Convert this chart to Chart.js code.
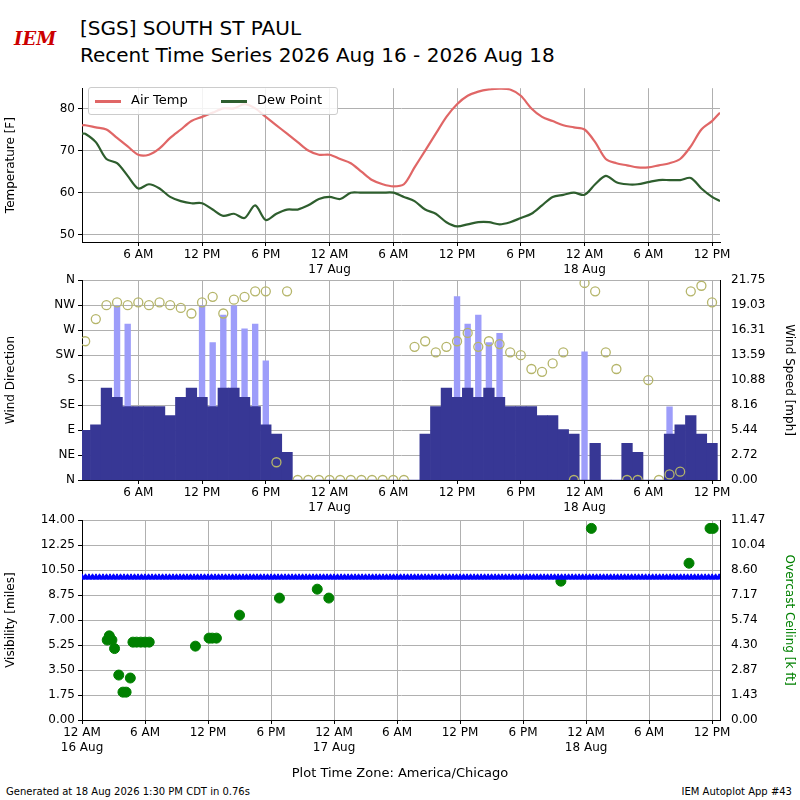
<!DOCTYPE html><html><head><meta charset="utf-8">
<script src="https://cdn.jsdelivr.net/npm/chart.js@4"></script>
<style>
body{margin:0;width:800px;height:800px;background:#fff;font-family:"DejaVu Sans";position:relative;overflow:hidden}
canvas{position:absolute;left:0}
.t{position:absolute;white-space:nowrap;color:#000}
</style></head><body>
<div class="t" style="left:14px;top:6px;width:50px;height:44px;color:#c00;font:italic bold 18px 'DejaVu Serif';padding-top:22px;box-sizing:border-box">IEM</div>
<div class="t" style="left:80px;top:16px;font-size:20px">[SGS] SOUTH ST PAUL</div>
<div class="t" style="left:80px;top:43px;font-size:20px">Recent Time Series 2026 Aug 16 - 2026 Aug 18</div>
<canvas id="c1" width="800" height="200" style="top:78px"></canvas>
<canvas id="c2" width="800" height="246" style="top:270px"></canvas>
<canvas id="c3" width="800" height="246" style="top:510px"></canvas>
<div class="t" style="left:88px;top:87px;width:248px;height:26px;border:1px solid #ccc;border-radius:3px;background:rgba(255,255,255,.85);font-size:13px">
<span style="position:absolute;left:6px;top:12px;width:26px;border-top:3px solid #e06666"></span><span style="position:absolute;left:42px;top:4px">Air Temp</span>
<span style="position:absolute;left:132px;top:12px;width:26px;border-top:3px solid #2e5e2e"></span><span style="position:absolute;left:168px;top:4px">Dew Point</span></div>
<div class="t" style="left:0;width:800px;text-align:center;top:765px;font-size:13px">Plot Time Zone: America/Chicago</div>
<div class="t" style="left:6px;top:786px;font-size:10px">Generated at 18 Aug 2026 1:30 PM CDT in 0.76s</div>
<div class="t" style="right:8px;top:786px;font-size:10px">IEM Autoplot App #43</div>
<script>
const hours=[0.7,1,2,3,4,5,6,7,8,9,10,11,12,13,14,15,16,17,18,19,20,21,22,23,24,25,26,27,28,29,30,31,32,33,34,35,36,37,38,39,40,41,42,43,44,45,46,47,48,49,50,51,52,53,54,55,56,57,58,59,60,60.75];
const airTemp=[76,76,75.5,75,73,71,69,69,70.5,73,75,77,78,79,80,80,81,80,78,76,74,72,70,69,69,68,67,65,63,62,61.5,62,66,70,74,78,81,83,84,84.5,84.7,84.5,83,80,78,77,76,75.5,75,72,68,67,66.5,66,66,66.5,67,68,71,75,77,79];
const dewPoint=[74,74,72,68,67,64,61,62,61,59,58,57.5,57.5,56,54.5,55,54,57,53.5,55,56,56,57,58.5,59,58.5,60,60,60,60,60,59,58,56,55,53,52,52.5,53,53,52.5,53,54,55,57,59,59.5,60,59.5,62,64,62.5,62,62,62.5,63,63,63,63.5,61,59,58];
const windHours=[1,2,3,4,5,6,7,8,9,10,11,12,13,14,15,16,17,18,19,20,21,22,23,24,25,26,27,28,29,30,31,32,33,34,35,36,37,38,39,40,41,42,43,44,45,46,47,48,49,50,51,52,53,54,55,56,57,58,59,60];
const windSpeed=[5.4,6,10,9,8,8,8,8,7,9,10,9,8,10,10,9,8,6,5,3,0,0,0,0,0,0,0,0,0,0,0,0,5,8,10,9,10,9,10,9,8,8,8,7,7,5.5,5,0,4,0,0,4,3,0,0,5,6,7,5,4];
const windGust=[0,0,0,19,17,0,0,0,0,0,0,19,15,18,19,16.5,17,13,0,0,0,0,0,0,0,0,0,0,0,0,0,0,0,0,0,20,17,18,15,16,0,0,0,0,0,0,0,14,0,0,0,0,0,0,0,8,0,0,0,0];
const windDir=[250,290,315,320,315,320,315,320,315,310,300,320,330,300,325,330,340,340,32,340,0,0,0,0,0,0,0,0,0,0,0,240,250,230,240,250,265,240,250,245,230,225,200,195,210,230,0,355,340,230,200,0,0,180,0,10,15,340,350,320];
const ceilHours=[2.4,2.6,2.85,3.1,3.5,3.9,4.2,4.6,4.85,5.2,5.6,6.0,6.4,10.8,12.1,12.4,12.8,15.0,18.8,22.4,23.5,45.6,48.5,57.8,59.8,60.1];
const ceilKft=[4.59,4.83,4.59,4.1,2.58,1.6,1.6,2.41,4.47,4.47,4.47,4.47,4.47,4.24,4.7,4.7,4.7,6.02,7.0,7.51,7.0,7.97,11.0,9.0,11.0,11.0];
const visValue=10;
const dirLabels=['N','NE','E','SE','S','SW','W','NW','N'];

Chart.defaults.font.family='DejaVu Sans';Chart.defaults.font.size=12;Chart.defaults.color='#000';
Chart.defaults.animation=false;Chart.defaults.responsive=false;
const grid={color:'#b0b0b0',drawTicks:true,tickLength:4,tickColor:'#000'};
function tl(v){const h=((v%24)+24)%24;const n={0:'12 AM',6:'6 AM',12:'12 PM',18:'6 PM'}[h];
 if(h===0){const d=16+Math.round(v/24);return [n,d+' Aug'];}return n;}
function xAxis(min,startTick){return {type:'linear',min:min,max:60.75,offset:false,grid:Object.assign({offset:false},grid),border:{color:'#000'},
 afterBuildTicks:s=>{const t=[];for(let v=startTick;v<=60.75;v+=6)t.push({value:v});s.ticks=t;},
 ticks:{callback:tl,maxRotation:0,autoSkip:false,padding:2},afterFit:s=>{s.height=36;}};}
function fixTicks(arr){return s=>{s.ticks=arr.map(v=>({value:v}));};}
const lw=s=>{s.width=82;},rw=s=>{s.width=80;};
const pl={legend:{display:false},tooltip:{enabled:false}};
const lay=r=>({autoPadding:false,padding:{right:r,top:0,left:0,bottom:0}});

new Chart(document.getElementById('c1'),{type:'line',data:{datasets:[
 {data:hours.map((h,i)=>({x:h,y:airTemp[i]})),borderColor:'#e06666',borderWidth:2.2,pointRadius:0,tension:0.3},
 {data:hours.map((h,i)=>({x:h,y:dewPoint[i]})),borderColor:'#2e5e2e',borderWidth:2.2,pointRadius:0,tension:0.3}]},
 options:{plugins:pl,layout:lay(80),scales:{x:xAxis(0.7,6),
 y:{min:48.3,max:84.8,afterBuildTicks:fixTicks([50,60,70,80]),grid:grid,border:{color:'#000'},afterFit:lw,title:{display:true,text:'Temperature [F]'}}}}});

const spd=[],gst=[],dr=[];
windHours.forEach((h,i)=>{spd.push({x:h,y:windSpeed[i]});gst.push({x:h,y:windGust[i]});dr.push({x:h,y:windDir[i]});});
const spdTicks=[];for(let i=0;i<=8;i++)spdTicks.push(i*21.75/8);
new Chart(document.getElementById('c2'),{data:{datasets:[
 {type:'scatter',data:dr,yAxisID:'y',pointStyle:'circle',pointRadius:4.5,borderColor:'#b5b56a',backgroundColor:'rgba(0,0,0,0)',borderWidth:1.3,order:0},
 {type:'bar',data:spd,yAxisID:'y2',backgroundColor:'#373795',barPercentage:1,categoryPercentage:1,grouped:false,order:1},
 {type:'bar',data:gst,yAxisID:'y2',backgroundColor:'#9d9dfa',barPercentage:0.6,categoryPercentage:1,grouped:false,order:2}]},
 options:{plugins:pl,layout:lay(0),scales:{x:xAxis(0.7,6),
 y:{position:'left',min:0,max:360,afterBuildTicks:fixTicks([0,45,90,135,180,225,270,315,360]),ticks:{callback:v=>dirLabels[Math.round(v/45)]},grid:grid,border:{color:'#000'},afterFit:lw,title:{display:true,text:'Wind Direction'}},
 y2:{position:'right',min:0,max:21.75,afterBuildTicks:fixTicks(spdTicks),ticks:{callback:v=>v.toFixed(2)},grid:{display:false},border:{color:'#000'},afterFit:rw,title:{display:true,text:'Wind Speed [mph]'}}}}});

const vis=[];for(let h=0;h<=60.75;h+=1/3)vis.push({x:h,y:visValue});
const visTicks=[],ceilTicks=[];for(let i=0;i<=8;i++){visTicks.push(i*1.75);ceilTicks.push(i*11.47/8);}
new Chart(document.getElementById('c3'),{type:'scatter',data:{datasets:[
 {data:vis,yAxisID:'y',pointStyle:'triangle',pointRadius:3.5,backgroundColor:'#0000ff',borderColor:'#0000ff',borderWidth:1},
 {data:ceilHours.map((h,i)=>({x:h,y:ceilKft[i]})),yAxisID:'y2',pointRadius:5,backgroundColor:'#008000',borderColor:'#008000'}]},
 options:{plugins:pl,layout:lay(0),scales:{x:xAxis(0,0),
 y:{position:'left',min:0,max:14,afterBuildTicks:fixTicks(visTicks),ticks:{callback:v=>v.toFixed(2)},grid:grid,border:{color:'#000'},afterFit:lw,title:{display:true,text:'Visibility [miles]'}},
 y2:{position:'right',min:0,max:11.47,afterBuildTicks:fixTicks(ceilTicks),ticks:{callback:v=>v.toFixed(2)},grid:{display:false},border:{color:'#000'},afterFit:rw,title:{display:true,text:'Overcast Ceiling [k ft]',color:'#008000'}}}}});
</script></body></html>
